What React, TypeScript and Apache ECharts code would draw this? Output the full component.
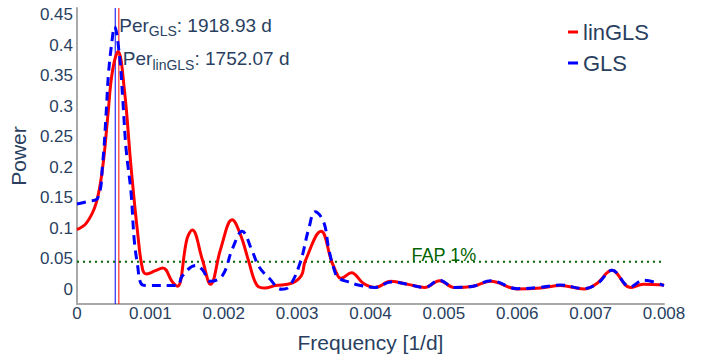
import React, { useEffect, useRef } from "react";
import * as echarts from "echarts";

const linGLSFreq = [
  0, 0.00013, 0.00026, 0.00035, 0.00042, 0.00048, 0.00056, 0.000646, 0.000737, 0.000827,
  0.000895, 0.00095, 0.00106, 0.00117, 0.0013, 0.00137, 0.0015, 0.00157, 0.00171, 0.00182,
  0.00196, 0.002115, 0.00223, 0.00234, 0.00245, 0.00256, 0.0027, 0.00293, 0.00306, 0.00311,
  0.003326, 0.00347, 0.00356, 0.0036, 0.00374, 0.0039, 0.00406, 0.00428, 0.00451, 0.00474,
  0.00494, 0.00514, 0.0054, 0.00564, 0.006, 0.00632, 0.00659, 0.00691, 0.00709, 0.00729,
  0.00754, 0.00772, 0.008,
];
const linGLSPower = [
  0.098, 0.109, 0.141, 0.2, 0.284, 0.355, 0.39, 0.327, 0.2, 0.092,
  0.032, 0.025, 0.03, 0.035, 0.012, 0.005, 0.083, 0.097, 0.048, 0.008,
  0.067, 0.114, 0.089, 0.046, 0.007, 0.002, 0.006, 0.01, 0.023, 0.046,
  0.095, 0.046, 0.021, 0.018, 0.027, 0.01, 0.003, 0.013, 0.008, 0.003,
  0.014, 0.003, 0.005, 0.013, 0.0005, 0.002, 0.006, 0.0005, 0.01, 0.031,
  0.003, 0.008, 0.007,
];

const glsFreq = [
  0, 0.00015, 0.000285, 0.00035, 0.000395, 0.00043, 0.00048, 0.00051, 0.00058, 0.000624,
  0.00067, 0.000737, 0.00078, 0.000827, 0.00087, 0.00094, 0.00137, 0.00143, 0.00162, 0.00171,
  0.00182, 0.00198, 0.00212, 0.00225, 0.00239, 0.00248, 0.00262, 0.00279, 0.00289, 0.00304,
  0.00316, 0.003245, 0.00336, 0.00343, 0.0035, 0.00356, 0.0037, 0.00383, 0.00406, 0.00428,
  0.00451, 0.00474, 0.00494, 0.00514, 0.0054, 0.00564, 0.006, 0.0063, 0.00659, 0.00691,
  0.0071, 0.00729, 0.00754, 0.00772, 0.008,
];
const glsPower = [
  0.14, 0.144, 0.15, 0.207, 0.284, 0.355, 0.41, 0.431, 0.382, 0.311,
  0.229, 0.158, 0.081, 0.038, 0.01, 0.006, 0.006, 0.021, 0.039, 0.032,
  0.013, 0.022, 0.067, 0.095, 0.062, 0.037, 0.018, 0.0, 0.004, 0.043,
  0.1, 0.127, 0.111, 0.067, 0.034, 0.019, 0.012, 0.007, 0.003, 0.012,
  0.008, 0.003, 0.015, 0.003, 0.005, 0.014, 0.001, 0.003, 0.007, 0.001,
  0.01, 0.031, 0.004, 0.015, 0.006,
];

const perGLS = 1918.93;
const perLinGLS = 1752.07;
const fap1 = 0.045;
const yTicks = [0, 0.05, 0.1, 0.15, 0.2, 0.25, 0.3, 0.35, 0.4, 0.45];
const xTicks = [0, 0.001, 0.002, 0.003, 0.004, 0.005, 0.006, 0.007, 0.008];
const xRange = [0, 0.008];
const yRange = [-0.0242, 0.4614];

const FONT = "Liberation Sans, Arial, sans-serif";
const TXT = "#2a3f5f";

export default function App() {
  const ref = useRef<HTMLDivElement>(null);
  useEffect(() => {
    document.body.style.margin = "0";
    if (!ref.current) return;
    const chart = echarts.init(ref.current, undefined, { renderer: "svg" });
    const red = linGLSFreq.map((f, i) => [f, linGLSPower[i]]);
    const blue = glsFreq.map((f, i) => [f, glsPower[i]]);
    const fmt = (v: number) => (v === 0 ? "0" : String(Number(v.toFixed(4))));
    const rich = {
      a: { fontSize: 19, color: TXT, fontFamily: FONT, lineHeight: 26 },
      s: { fontSize: 14, color: TXT, fontFamily: FONT, verticalAlign: "bottom", lineHeight: 14 },
    };
    const vline = (f: number, color: string) => ({
      type: "line",
      data: [
        [f, yRange[0]],
        [f, yRange[1]],
      ],
      symbol: "none",
      silent: true,
      lineStyle: { color, width: 1 },
      z: 1,
    });
    chart.setOption({
      animation: false,
      textStyle: { fontFamily: FONT },
      grid: { left: 74, right: 49, top: 8, bottom: 52 },
      legend: {
        orient: "vertical",
        left: 568,
        top: 21,
        padding: 0,
        itemGap: 9,
        icon: "rect",
        itemWidth: 10,
        itemHeight: 3,
        textStyle: { fontSize: 22, color: TXT, fontFamily: FONT },
        data: ["linGLS", "GLS"],
      },
      xAxis: {
        type: "value",
        min: xRange[0],
        max: xRange[1],
        name: "Frequency [1/d]",
        nameLocation: "middle",
        nameGap: 28,
        nameTextStyle: { fontSize: 21, color: TXT, fontFamily: FONT },
        axisLine: { show: true, onZero: false, lineStyle: { color: "#a9a9a9", width: 2 } },
        axisTick: { show: false },
        splitLine: { show: false },
        axisLabel: {
          customValues: xTicks,
          formatter: fmt,
          fontSize: 17,
          color: TXT,
          fontFamily: FONT,
          margin: 1,
        },
      },
      yAxis: {
        type: "value",
        min: yRange[0],
        max: yRange[1],
        name: "Power",
        nameLocation: "middle",
        nameGap: 39,
        nameTextStyle: { fontSize: 21, color: TXT, fontFamily: FONT },
        axisLine: { show: true, onZero: false, lineStyle: { color: "#a9a9a9", width: 2 } },
        axisTick: { show: false },
        splitLine: { show: false },
        axisLabel: {
          customValues: yTicks,
          formatter: fmt,
          fontSize: 17,
          color: TXT,
          fontFamily: FONT,
          margin: 4,
        },
      },
      series: [
        vline(1 / perGLS, "#0000ff"),
        vline(1 / perLinGLS, "#ff0000"),
        {
          type: "line",
          data: [
            [xRange[0], fap1],
            [xRange[1], fap1],
          ],
          symbol: "none",
          silent: true,
          lineStyle: { color: "#006400", width: 2, type: [2, 4] },
          z: 1,
        },
        {
          name: "linGLS",
          type: "line",
          data: red,
          smooth: 0.4,
          showSymbol: false,
          symbol: "none",
          itemStyle: { color: "#ff0000" },
          lineStyle: { color: "#ff0000", width: 3 },
          z: 3,
          markPoint: {
            silent: true,
            symbol: "circle",
            symbolSize: 0,
            data: [
              {
                coord: [1 / perLinGLS, 0.378],
                label: {
                  show: true,
                  position: "right",
                  distance: 4,
                  formatter: "{a|Per}{s|linGLS}{a|: " + perLinGLS.toFixed(2) + " d}",
                  rich,
                },
              },
              {
                coord: [0.005, fap1],
                label: {
                  show: true,
                  position: "top",
                  distance: -2,
                  formatter: "FAP 1%",
                  fontSize: 18,
                  color: "#006400",
                  fontFamily: FONT,
                },
              },
            ],
          },
        },
        {
          name: "GLS",
          type: "line",
          data: blue,
          smooth: 0.4,
          showSymbol: false,
          symbol: "none",
          itemStyle: { color: "#0000ff" },
          lineStyle: { color: "#0000ff", width: 3, type: [9, 6] },
          z: 4,
          markPoint: {
            silent: true,
            symbol: "circle",
            symbolSize: 0,
            data: [
              {
                coord: [1 / perGLS, 0.433],
                label: {
                  show: true,
                  position: "right",
                  distance: 4,
                  formatter: "{a|Per}{s|GLS}{a|: " + perGLS.toFixed(2) + " d}",
                  rich,
                },
              },
            ],
          },
        },
      ],
    });
    return () => chart.dispose();
  }, []);
  return <div ref={ref} style={{ width: 713, height: 358 }} />;
}
